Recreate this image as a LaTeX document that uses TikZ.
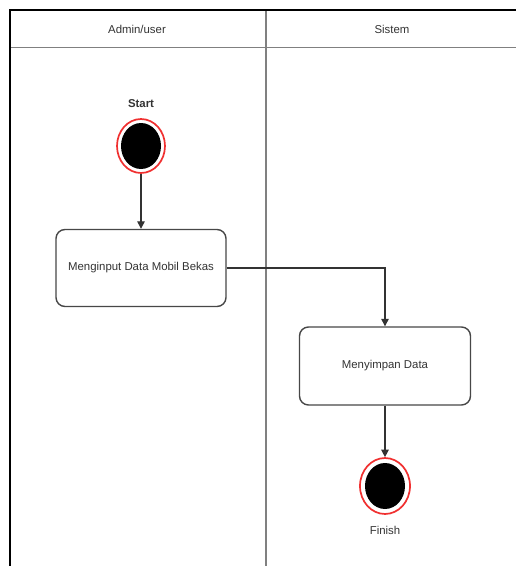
\documentclass[tikz,border=0pt]{standalone}
\usepackage{fontspec}
\setmainfont{Liberation Sans}
\usetikzlibrary{arrows.meta,shapes.geometric}

\definecolor{inkgray}{HTML}{333333}
\definecolor{lanegray}{HTML}{808080}
\definecolor{ringred}{HTML}{F03030}

\tikzset{
  frame/.style={draw=black, line width=2.8pt},
  lane/.style={draw=lanegray, line width=1.5pt},
  lbl/.style={font=\fontsize{11.4}{13}\selectfont, text=inkgray, inner sep=0pt},
  action/.style={draw=inkgray!90, line width=1.4pt, rounded corners=9pt, fill=white,
    minimum width=170pt, minimum height=77pt, inner sep=0pt,
    font=\fontsize{11.4}{13}\selectfont, text=inkgray},
  ring/.style={ellipse, draw=ringred, line width=1.7pt, fill=white, inner sep=0pt,
    minimum width=48pt, minimum height=54pt},
  flow/.style={draw=inkgray, line width=1.3pt, -{Triangle[width=7.5pt,length=7.5pt]}},
}

\begin{document}
\begin{tikzpicture}[x=1pt,y=-1pt]
  \useasboundingbox (0,0) rectangle (516,566);

  % swimlane frame
  \draw[lane] (10,47.5) -- (516,47.5);
  \draw[lane] (266,10) -- (266,566);
  \draw[frame] (516,10) -- (10,10) -- (10,566);

  % lane headings
  \node[lbl] (laneA) at (137,29) {Admin/user};
  \node[lbl] (laneB) at (392,29) {Sistem};

  % initial state
  \node[lbl, font=\fontsize{11.4}{13}\selectfont\bfseries] (startlbl) at (141,104) {Start};
  \node[ring] (start) at (141,146) {};
  \fill[black] (start.center) ellipse [x radius=20pt, y radius=23pt];

  % actions
  \node[action] (act1) at (141,268) {Menginput Data Mobil Bekas};
  \node[action, minimum width=171pt, minimum height=78pt] (act2) at (385,366) {Menyimpan Data};

  % final state
  \node[ring, minimum width=50pt, minimum height=56pt] (finish) at (385,486) {};
  \fill[black] (finish.center) ellipse [x radius=20pt, y radius=23pt];
  \node[lbl] (finishlbl) at (385,530) {Finish};

  % control flow
  \draw[flow] (start) -- (act1);
  \draw[flow] (act1.east) -| (act2.north);
  \draw[flow] (act2.south) -- (finish.north);
\end{tikzpicture}
\end{document}
